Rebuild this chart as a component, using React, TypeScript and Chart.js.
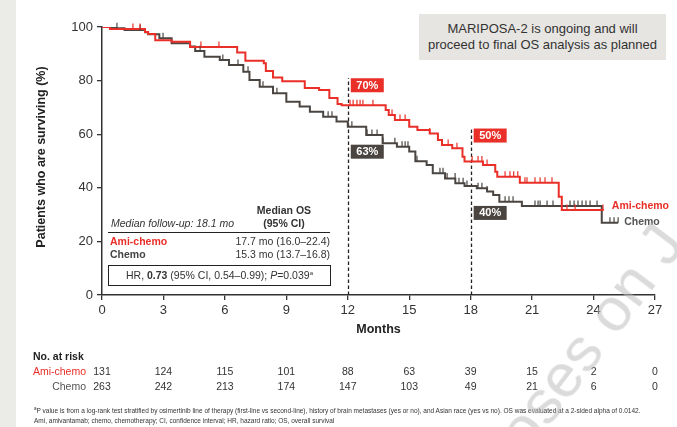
import React, { useEffect, useRef } from "react";
import { Chart, registerables } from "chart.js";
Chart.register(...registerables);

const FONT = '"Liberation Sans", Arial, sans-serif';

const monthTicks = [0, 3, 6, 9, 12, 15, 18, 21, 24, 27];

const amiTimes = [0, 0.39, 2.1, 2.25, 2.6, 3.4, 4.3, 6.6, 7.0, 7.9, 8.0, 8.35, 8.8, 9.9, 10.6, 11.1, 11.5, 11.7, 13.85, 14.0, 14.3, 15.0, 15.4, 16.0, 16.4, 16.6, 17.1, 17.6, 17.7, 18.6, 19.2, 19.3, 20.4, 22.3, 22.45, 24.5];
const amiSurv = [100, 99.3, 98.1, 97.4, 95.1, 94.5, 92.5, 90.5, 87.4, 86.5, 83.6, 81.2, 79.8, 77.2, 76.5, 73.5, 71.3, 70.8, 69.0, 67.2, 65.3, 62.8, 61.6, 60.3, 57.8, 56.0, 54.8, 51.6, 49.8, 48.5, 46.0, 44.1, 41.9, 36.7, 31.7, 31.7];

const chemoTimes = [0, 0.7, 1.1, 2.1, 2.25, 2.8, 3.4, 4.3, 4.55, 5.0, 5.75, 6.2, 6.9, 7.2, 7.7, 8.35, 9.0, 9.65, 10.15, 10.8, 11.45, 12.0, 12.9, 13.7, 14.4, 15.0, 15.3, 15.85, 16.15, 16.75, 17.25, 17.7, 18.3, 18.8, 19.1, 19.4, 20.5, 24.4, 25.2];
const chemoSurv = [100, 99.5, 98.9, 98.0, 97.3, 95.8, 93.9, 92.7, 91.0, 88.9, 87.7, 85.8, 83.3, 80.2, 77.7, 75.3, 72.1, 70.3, 68.4, 66.5, 64.7, 62.8, 59.7, 56.6, 55.3, 53.5, 49.9, 48.5, 45.4, 43.5, 41.7, 40.7, 39.8, 38.6, 37.3, 34.8, 33.2, 27.0, 27.0];

const amiCensor = [1.51, 1.86, 4.83, 5.71, 12.11, 12.26, 12.45, 12.6, 12.74, 13.23, 14.16, 14.55, 14.8, 16.0, 16.4, 16.9, 17.33, 18.07, 18.36, 18.55, 18.8, 19.68, 19.92, 20.1, 20.3, 20.65, 20.75, 21.14, 21.39, 21.63, 21.97, 22.7, 23.1, 24.46];
const chemoCensor = [0.73, 1.86, 2.98, 4.79, 5.9, 6.64, 7.13, 7.86, 8.54, 11.04, 11.23, 12.0, 12.2, 12.94, 13.18, 13.43, 13.72, 14.3, 14.65, 14.8, 14.94, 15.38, 16.5, 16.65, 16.85, 17.24, 17.43, 17.63, 17.82, 18.36, 18.55, 18.8, 19.68, 19.87, 20.07, 21.14, 21.29, 21.39, 21.73, 22.02, 22.85, 23.05, 23.24, 23.44, 23.63, 23.83, 24.17, 24.8, 25.0, 25.2];

const amiAtRisk = [131, 124, 115, 101, 88, 63, 39, 15, 2, 0];
const chemoAtRisk = [263, 242, 213, 174, 147, 103, 49, 21, 6, 0];

const landmarkMonths = [12, 18];
const amiLandmarkLabels = ["70%", "50%"];
const chemoLandmarkLabels = ["63%", "40%"];

const RED = "#ea2e28";
const DARK = "#4a4541";

function valueAt(times: number[], surv: number[], t: number) {
  let v = surv[0];
  for (let i = 0; i < times.length; i++) if (times[i] <= t) v = surv[i];
  return v;
}

const kmPlugin = {
  id: "km",
  beforeDatasetsDraw(chart: any) {
    const ctx = chart.ctx;
    const xs = chart.scales.x, ys = chart.scales.y;
    const tops = [-20 - 7, -26 - 7];
    ctx.save();
    ctx.strokeStyle = "#222";
    ctx.lineWidth = 1.3;
    ctx.setLineDash([3.5, 2.5]);
    landmarkMonths.forEach((m, i) => {
      const x = Math.round(xs.getPixelForValue(m)) + 0.5;
      const yTop = ys.getPixelForValue(valueAt(amiTimes, amiSurv, m)) + tops[i];
      ctx.beginPath();
      ctx.moveTo(x, ys.bottom);
      ctx.lineTo(x, yTop);
      ctx.stroke();
    });
    ctx.restore();
  },
  afterDatasetsDraw(chart: any) {
    const ctx = chart.ctx;
    const xs = chart.scales.x, ys = chart.scales.y;
    ctx.save();
    const drawCensor = (times: number[], surv: number[], cens: number[], color: string) => {
      ctx.strokeStyle = color;
      ctx.lineWidth = 1.2;
      cens.forEach((t) => {
        const x = xs.getPixelForValue(t);
        const y = ys.getPixelForValue(valueAt(times, surv, t));
        ctx.beginPath();
        ctx.moveTo(x, y);
        ctx.lineTo(x, y - 5.5);
        ctx.stroke();
      });
    };
    drawCensor(chemoTimes, chemoSurv, chemoCensor, DARK);
    drawCensor(amiTimes, amiSurv, amiCensor, RED);

    const redOff = [-20, -26];
    const darkOff = [25, 27];
    ctx.font = `bold 11px ${FONT}`;
    ctx.textAlign = "center";
    ctx.textBaseline = "middle";
    landmarkMonths.forEach((m, i) => {
      const x0 = xs.getPixelForValue(m) + 3;
      const yr = ys.getPixelForValue(valueAt(amiTimes, amiSurv, m)) + redOff[i];
      const yd = ys.getPixelForValue(valueAt(chemoTimes, chemoSurv, m)) + darkOff[i];
      ctx.fillStyle = RED;
      ctx.fillRect(x0, yr - 7, 33, 14);
      ctx.fillStyle = "#fff";
      ctx.fillText(amiLandmarkLabels[i], x0 + 16.5, yr + 0.5);
      ctx.fillStyle = DARK;
      ctx.fillRect(x0, yd - 7, 33, 14);
      ctx.fillStyle = "#fff";
      ctx.fillText(chemoLandmarkLabels[i], x0 + 16.5, yd + 0.5);
    });

    ctx.textAlign = "left";
    ctx.font = `bold 10.5px ${FONT}`;
    const ax = xs.getPixelForValue(amiTimes[amiTimes.length - 1]);
    const ay = ys.getPixelForValue(amiSurv[amiSurv.length - 1]);
    ctx.fillStyle = RED;
    ctx.fillText("Ami-chemo", ax + 8, ay - 4);
    const cx = xs.getPixelForValue(chemoTimes[chemoTimes.length - 1]);
    const cy = ys.getPixelForValue(chemoSurv[chemoSurv.length - 1]);
    ctx.fillStyle = "#555";
    ctx.fillText("Chemo", cx + 6, cy - 1);

    ctx.fillStyle = "#222";
    ctx.font = `bold 12.5px ${FONT}`;
    ctx.textAlign = "center";
    ctx.fillText("Months", (xs.left + xs.right) / 2, 330);
    ctx.save();
    ctx.translate(42, (ys.top + ys.bottom) / 2 - 4);
    ctx.rotate(-Math.PI / 2);
    ctx.fillText("Patients who are surviving (%)", 0, 0);
    ctx.restore();

    ctx.font = `bold 10.5px ${FONT}`;
    ctx.textAlign = "left";
    ctx.fillStyle = "#222";
    ctx.fillText("No. at risk", 33, 357);
    ctx.font = `10.5px ${FONT}`;
    ctx.textAlign = "right";
    ctx.fillStyle = RED;
    ctx.fillText("Ami-chemo", 86, 372);
    ctx.fillStyle = "#555";
    ctx.fillText("Chemo", 86, 387);
    ctx.textAlign = "center";
    ctx.fillStyle = "#333";
    monthTicks.forEach((m, i) => {
      const x = xs.getPixelForValue(m);
      ctx.fillText(String(amiAtRisk[i]), x, 372);
      ctx.fillText(String(chemoAtRisk[i]), x, 387);
    });
    ctx.restore();
  },
};

export default function App() {
  const ref = useRef<HTMLCanvasElement | null>(null);
  useEffect(() => {
    if (!ref.current) return;
    const chart = new Chart(ref.current, {
      type: "line",
      data: {
        datasets: [
          {
            label: "Ami-chemo",
            data: amiTimes.map((t, i) => ({ x: t, y: amiSurv[i] })),
            borderColor: RED,
            borderWidth: 2,
            stepped: "before",
            pointRadius: 0,
            fill: false,
          },
          {
            label: "Chemo",
            data: chemoTimes.map((t, i) => ({ x: t, y: chemoSurv[i] })),
            borderColor: DARK,
            borderWidth: 2,
            stepped: "before",
            pointRadius: 0,
            fill: false,
          },
        ],
      },
      options: {
        responsive: false,
        animation: false,
        layout: { padding: { top: 27, right: 22, left: 0, bottom: 0 } },
        plugins: { legend: { display: false }, tooltip: { enabled: false } },
        scales: {
          x: {
            type: "linear",
            min: 0,
            max: 27,
            ticks: { stepSize: 3, font: { family: FONT, size: 13 }, color: "#333", padding: 3 },
            grid: { drawOnChartArea: false, drawTicks: true, tickLength: 5, color: "#333", lineWidth: 1.3 },
            border: { color: "#333", width: 1.5 },
            afterFit: (s: any) => { s.height = 132; },
          },
          y: {
            min: 0,
            max: 100,
            ticks: { stepSize: 20, font: { family: FONT, size: 13 }, color: "#333", padding: 4 },
            grid: { drawOnChartArea: false, drawTicks: true, tickLength: 5, color: "#333", lineWidth: 1.3 },
            border: { color: "#333", width: 1.5 },
            afterFit: (s: any) => { s.width = 102; },
          },
        },
      },
      plugins: [kmPlugin],
    } as any);
    return () => chart.destroy();
  }, []);

  const txt: React.CSSProperties = { position: "absolute", fontFamily: FONT, color: "#333", whiteSpace: "nowrap", lineHeight: 1 };

  return (
    <div style={{ position: "fixed", left: 0, top: 0, width: 677, height: 427, background: "#fff", overflow: "hidden" }}>
      <div style={{ position: "absolute", left: 0, top: 0, width: 16, height: 427, background: "#ebebe7" }} />
      <canvas ref={ref} width={677} height={427} style={{ position: "absolute", left: 0, top: 0 }} />
      <div style={{ position: "absolute", left: 419, top: 14, width: 247, height: 46, background: "#e6e5e1", fontFamily: FONT, fontSize: 13, color: "#333", textAlign: "center", lineHeight: "15.5px", paddingTop: 7, boxSizing: "border-box" }}>
        MARIPOSA-2 is ongoing and will<br />proceed to final OS analysis as planned
      </div>
      <div style={{ ...txt, left: 230, width: 108, top: 204, fontSize: 10.5, fontWeight: "bold", textAlign: "center", lineHeight: "13px" }}>
        Median OS<br />(95% CI)
      </div>
      <div style={{ ...txt, left: 111, top: 218, fontSize: 10.5, fontStyle: "italic" }}>Median follow-up: 18.1 mo</div>
      <div style={{ position: "absolute", left: 108, top: 232, width: 222, height: 1, background: "#222" }} />
      <div style={{ ...txt, left: 110, top: 236, fontSize: 10.5, fontWeight: "bold", color: RED }}>Ami-chemo</div>
      <div style={{ ...txt, left: 180, width: 150, textAlign: "right", top: 236, fontSize: 10.5 }}>17.7 mo (16.0–22.4)</div>
      <div style={{ ...txt, left: 110, top: 249, fontSize: 10.5, fontWeight: "bold", color: "#444" }}>Chemo</div>
      <div style={{ ...txt, left: 180, width: 150, textAlign: "right", top: 249, fontSize: 10.5 }}>15.3 mo (13.7–16.8)</div>
      <div style={{ ...txt, left: 108, top: 265, width: 223, height: 21, border: "1px solid #222", boxSizing: "border-box", fontSize: 10.5, textAlign: "center", lineHeight: "19px" }}>
        HR, <b>0.73</b> (95% CI, 0.54–0.99); <i>P</i>=0.039<sup style={{ fontSize: 6, verticalAlign: "top", lineHeight: "14px" }}>a</sup>
      </div>
      <div style={{ ...txt, left: 34, top: 404, fontSize: 6.5, color: "#333", lineHeight: "10px" }}>
        <sup style={{ fontSize: 4.5 }}>a</sup>P value is from a log-rank test stratified by osimertinib line of therapy (first-line vs second-line), history of brain metastases (yes or no), and Asian race (yes vs no). OS was evaluated at a 2-sided alpha of 0.0142.<br />
        Ami, amivantamab; chemo, chemotherapy; CI, confidence interval; HR, hazard ratio; OS, overall survival
      </div>
      <div style={{ position: "absolute", left: 535, top: 400, fontFamily: FONT, fontSize: 62, color: "rgba(190,190,190,0.55)", whiteSpace: "nowrap", transform: "rotate(-53deg)", transformOrigin: "0 100%", lineHeight: 1, pointerEvents: "none" }}>
        oses on J
      </div>
    </div>
  );
}
